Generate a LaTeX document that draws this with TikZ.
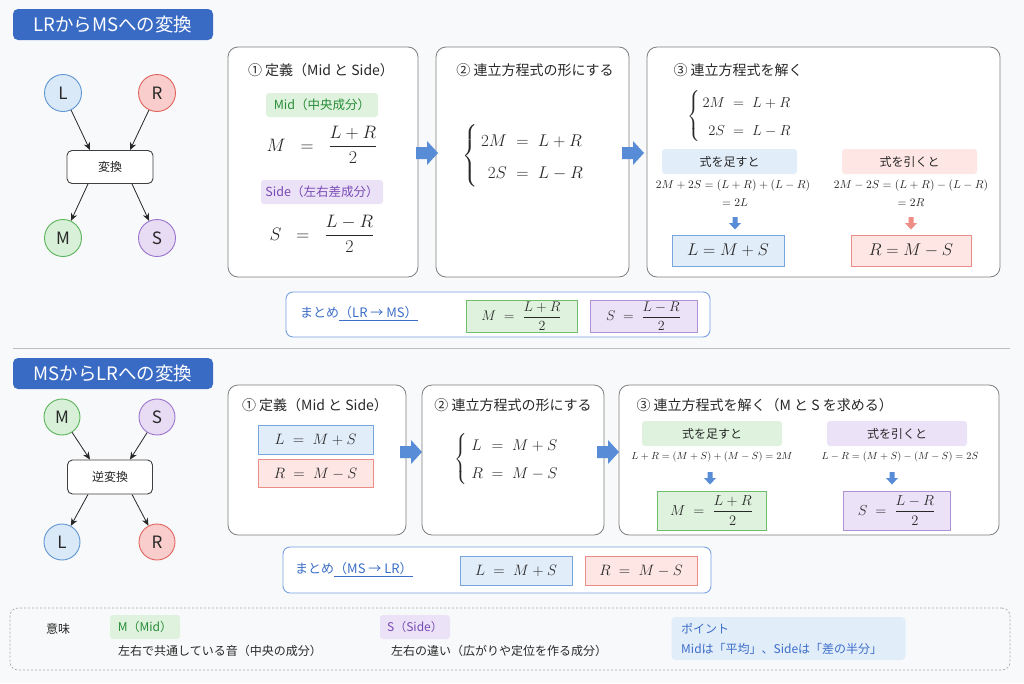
\RequirePackage{fix-cm}
\documentclass[tikz,border=0pt]{standalone}
\usepackage[no-math]{fontspec}
\setmainfont{Noto Sans CJK JP}
\usepackage{amsmath}
\usetikzlibrary{arrows.meta}
\definecolor{bg}{RGB}{248,249,250}
\definecolor{bannerblue}{RGB}{58,107,196}
\definecolor{arrowblue}{RGB}{88,140,214}
\definecolor{panelgray}{RGB}{125,125,125}
\definecolor{txt}{RGB}{40,40,40}
\definecolor{bfill}{RGB}{226,237,250}
\definecolor{bdraw}{RGB}{120,165,220}
\definecolor{rfill}{RGB}{253,230,228}
\definecolor{rdraw}{RGB}{236,140,135}
\definecolor{rarrow}{RGB}{238,140,134}
\definecolor{gfill}{RGB}{222,242,222}
\definecolor{gdraw}{RGB}{110,190,110}
\definecolor{gtext}{RGB}{40,140,55}
\definecolor{pfill}{RGB}{236,226,247}
\definecolor{pdraw}{RGB}{175,145,215}
\definecolor{ptext}{RGB}{120,75,180}
\definecolor{sumblue}{RGB}{60,110,200}
\definecolor{sumdraw}{RGB}{120,160,225}
\definecolor{cLf}{RGB}{218,233,248}\definecolor{cLd}{RGB}{95,150,210}
\definecolor{cRf}{RGB}{248,205,203}\definecolor{cRd}{RGB}{225,100,95}
\definecolor{cMf}{RGB}{216,240,216}\definecolor{cMd}{RGB}{90,180,90}
\definecolor{cSf}{RGB}{232,220,245}\definecolor{cSd}{RGB}{155,115,205}
\newcommand{\eqsp}{\;\;=\;\;}
\tikzset{
  every node/.style={text=txt},
  banner/.style={fill=bannerblue, rounded corners=5pt, text=white, minimum width=200pt, minimum height=31pt, inner sep=0pt, font=\fontsize{18.5}{20}\selectfont},
  circ/.style={circle, line width=0.9pt, minimum size=37pt, inner sep=0pt, font=\fontsize{17}{17}\selectfont},
  convbox/.style={draw=black!75, line width=0.9pt, fill=white, rounded corners=5pt, minimum width=86pt, minimum height=33pt, font=\fontsize{12}{12}\selectfont},
  conn/.style={draw=black!85, line width=0.8pt, -{Stealth[length=7.5pt,width=6.5pt]}},
  panel/.style={draw=panelgray, line width=0.8pt, fill=white, rounded corners=10pt, inner sep=0pt},
  ptitle/.style={font=\fontsize{14}{14}\selectfont},
  tag/.style={rounded corners=3pt, inner sep=0pt, font=\fontsize{12.5}{13}\selectfont},
  eqbox/.style={line width=0.8pt, inner sep=0pt},
  sumbox/.style={draw=sumdraw, line width=0.9pt, fill=white, rounded corners=7pt, inner sep=0pt},
  sumtext/.style={text=sumblue, font=\fontsize{13}{13}\selectfont, anchor=west, inner sep=0pt},
  small/.style={font=\fontsize{12}{13}\selectfont, inner sep=0pt},
  fatarrow/.pic={\fill[arrowblue] (-11,-6) -- (0,-6) -- (0,-12) -- (11,0) -- (0,12) -- (0,6) -- (-11,6) -- cycle;},
  downarr/.pic={\fill[pic actions] (-2.5,-6) -- (2.5,-6) -- (2.5,0) -- (6,0) -- (0,6.5) -- (-6,0) -- (-2.5,0) -- cycle;}
}
\begin{document}
\begin{tikzpicture}[x=1pt,y=-1pt]
\fill[bg] (0,0) rectangle (1024,683);
\useasboundingbox (0,0) rectangle (1024,683);

% ===== Top section =====
\node[banner] (B1) at (113,24.5) {LRからMSへの変換};
\node[circ, fill=cLf, draw=cLd] (L1) at (63,93) {L};
\node[circ, fill=cRf, draw=cRd] (R1) at (157,93) {R};
\node[convbox] (T1) at (110,167) {変換};
\node[circ, fill=cMf, draw=cMd] (M1) at (63,238) {M};
\node[circ, fill=cSf, draw=cSd] (S1) at (157,238) {S};
\draw[conn] (L1) -- ([xshift=-20pt]T1.north);
\draw[conn] (R1) -- ([xshift=20pt]T1.north);
\draw[conn] ([xshift=-22pt]T1.south) -- (M1);
\draw[conn] ([xshift=22pt]T1.south) -- (S1);

% panels
\node[panel, minimum width=190pt, minimum height=230pt] (P1) at (323,162) {};
\node[panel, minimum width=193pt, minimum height=230pt] (P2) at (532.5,162) {};
\node[panel, minimum width=353pt, minimum height=230pt] (P3) at (823.5,162) {};
\pic at (427,153) {fatarrow};
\pic at (633,153) {fatarrow};

% panel 1
\node[ptitle] (P1t) at (321,70) {① 定義（Mid と Side）};
\node[tag, fill=gfill, text=gtext, minimum width=112pt, minimum height=24pt] (mid1) at (322,105) {Mid（中央成分）};
\node (fM1) at (322,145) {\fontsize{18}{22}\selectfont $\displaystyle M \;\;=\;\; \frac{L+R}{2}$};
\node[tag, fill=pfill, text=ptext, minimum width=122pt, minimum height=24pt] (side1) at (322,192) {Side（左右差成分）};
\node (fS1) at (322,234) {\fontsize{18}{22}\selectfont $\displaystyle S \;\;=\;\; \frac{L-R}{2}$};

% panel 2
\node[ptitle] (P2t) at (535,70) {② 連立方程式の形にする};
\node (c2) at (526,156) {\fontsize{17}{20}\selectfont\def\arraystretch{1.6}$\left\{\begin{array}{@{\,}r@{\eqsp}l}2M & L+R\\ 2S & L-R\end{array}\right.$};

% panel 3
\node[ptitle, anchor=west] (P3t) at (670,70) {③ 連立方程式を解く};
\node (c3) at (742,116) {\fontsize{14.5}{17}\selectfont\def\arraystretch{1.6}$\left\{\begin{array}{@{\,}r@{\eqsp}l}2M & L+R\\ 2S & L-R\end{array}\right.$};
\node[tag, fill=bfill, minimum width=135pt, minimum height=25pt, font=\fontsize{12}{12}\selectfont] (add1) at (729.5,161.5) {式を足すと};
\node[tag, fill=rfill, minimum width=135pt, minimum height=25pt, font=\fontsize{12}{12}\selectfont] (sub1) at (909.5,161.5) {式を引くと};
\node[small] (ea1) at (733,186) {\fontsize{11.5}{13}\selectfont $2M+2S=(L+R)+(L-R)$};
\node[small] (ea2) at (735,203) {\fontsize{11.5}{13}\selectfont $=2L$};
\node[small] (es1) at (911,186) {\fontsize{11.5}{13}\selectfont $2M-2S=(L+R)-(L-R)$};
\node[small] (es2) at (911,203) {\fontsize{11.5}{13}\selectfont $=2R$};
\pic[fill=arrowblue] at (735,223) {downarr};
\pic[fill=rarrow] at (911,223) {downarr};
\node[eqbox, fill=bfill, draw=bdraw, minimum width=112pt, minimum height=31pt] (rL1) at (728,250.5) {\fontsize{17}{20}\selectfont $L = M + S$};
\node[eqbox, fill=rfill, draw=rdraw, minimum width=120pt, minimum height=31pt] (rR1) at (911,250.5) {\fontsize{17}{20}\selectfont $R = M - S$};

% summary 1
\node[sumbox, minimum width=424pt, minimum height=45pt] (Sum1) at (498,314.5) {};
\node[sumtext] (Sum1t) at (300,314) {まとめ\underline{（LR → MS）}};
\node[eqbox, fill=gfill, draw=gdraw, minimum width=111pt, minimum height=32pt] (sM1) at (521.5,316) {\fontsize{14}{16}\selectfont $M \;=\; \dfrac{L+R}{2}$};
\node[eqbox, fill=pfill, draw=pdraw, minimum width=107pt, minimum height=32pt] (sS1) at (643.5,316) {\fontsize{14}{16}\selectfont $S \;=\; \dfrac{L-R}{2}$};

% separator
\draw[black!25, line width=0.8pt] (13,348) -- (1010,348);

% ===== Bottom section =====
\node[banner] (B2) at (113,373.5) {MSからLRへの変換};
\node[circ, fill=cMf, draw=cMd, minimum size=36pt] (M2) at (62,417) {M};
\node[circ, fill=cSf, draw=cSd, minimum size=36pt] (S2) at (157,417) {S};
\node[convbox, minimum width=85pt, minimum height=34pt] (T2) at (110,477) {逆変換};
\node[circ, fill=cLf, draw=cLd, minimum size=36pt] (L2) at (62,542) {L};
\node[circ, fill=cRf, draw=cRd, minimum size=36pt] (R2) at (157,542) {R};
\draw[conn] (M2) -- ([xshift=-20pt]T2.north);
\draw[conn] (S2) -- ([xshift=20pt]T2.north);
\draw[conn] ([xshift=-22pt]T2.south) -- (L2);
\draw[conn] ([xshift=22pt]T2.south) -- (R2);

\node[panel, minimum width=178pt, minimum height=150pt] (Q1) at (317,460) {};
\node[panel, minimum width=182pt, minimum height=150pt] (Q2) at (513,460) {};
\node[panel, minimum width=380pt, minimum height=150pt] (Q3) at (809,460) {};
\pic at (411,452) {fatarrow};
\pic at (608,452) {fatarrow};

% q1
\node[ptitle] (Q1t) at (315,405) {① 定義（Mid と Side）};
\node[eqbox, fill=bfill, draw=bdraw, minimum width=115pt, minimum height=29pt] (qL) at (315.5,439.5) {\fontsize{15}{18}\selectfont $L \;=\; M + S$};
\node[eqbox, fill=rfill, draw=rdraw, minimum width=115pt, minimum height=28pt] (qR) at (315.5,473.5) {\fontsize{15}{18}\selectfont $R \;=\; M - S$};

% q2
\node[ptitle] (Q2t) at (513,405) {② 連立方程式の形にする};
\node (c4) at (509,459) {\fontsize{15.5}{17}\selectfont\def\arraystretch{1.6}$\left\{\begin{array}{@{\;}l@{\eqsp}l}L & M+S\\ R & M-S\end{array}\right.$};

% q3
\node[ptitle, anchor=west] (Q3t) at (633,405) {③ 連立方程式を解く（M と S を求める）};
\node[tag, fill=gfill, minimum width=140pt, minimum height=25pt, font=\fontsize{12}{12}\selectfont] (add2) at (712,433.5) {式を足すと};
\node[tag, fill=pfill, minimum width=140pt, minimum height=25pt, font=\fontsize{12}{12}\selectfont] (sub2) at (897,433.5) {式を引くと};
\node[small] (ea3) at (712,457) {\fontsize{10.3}{12}\selectfont $L+R=(M+S)+(M-S)=2M$};
\node[small] (es3) at (900,457) {\fontsize{10.3}{12}\selectfont $L-R=(M+S)-(M-S)=2S$};
\pic[fill=arrowblue] at (710,478) {downarr};
\pic[fill=arrowblue] at (892,478) {downarr};
\node[eqbox, fill=gfill, draw=gdraw, minimum width=109pt, minimum height=39pt] (qM) at (711.5,510.5) {\fontsize{14.5}{18}\selectfont $M \;=\; \dfrac{L+R}{2}$};
\node[eqbox, fill=pfill, draw=pdraw, minimum width=107pt, minimum height=39pt] (qS) at (896.5,510.5) {\fontsize{14.5}{18}\selectfont $S \;=\; \dfrac{L-R}{2}$};

% summary 2
\node[sumbox, minimum width=428pt, minimum height=46pt] (Sum2) at (497,570) {};
\node[sumtext] (Sum2t) at (295,570) {まとめ\underline{（MS → LR）}};
\node[eqbox, fill=bfill, draw=bdraw, minimum width=112pt, minimum height=29pt] (sL2) at (516,570.5) {\fontsize{15}{17}\selectfont $L \;=\; M + S$};
\node[eqbox, fill=rfill, draw=rdraw, minimum width=112pt, minimum height=29pt] (sR2) at (641,570.5) {\fontsize{15}{17}\selectfont $R \;=\; M - S$};

% ===== Legend =====
\node[draw=black!35, dash pattern=on 2pt off 2pt, line width=0.7pt, rounded corners=8pt, minimum width=1000pt, minimum height=62pt, inner sep=0pt] (Leg) at (510,639) {};
\node[small] (imi) at (58,629) {意味};
\node[tag, fill=gfill, text=gtext, minimum width=70pt, minimum height=24pt, font=\fontsize{12}{12}\selectfont] (lgM) at (145,627) {M（Mid）};
\node[small, anchor=west] (lgMt) at (118,651) {左右で共通している音（中央の成分）};
\node[tag, fill=pfill, text=ptext, minimum width=70pt, minimum height=24pt, font=\fontsize{12}{12}\selectfont] (lgS) at (415,627) {S（Side）};
\node[small, anchor=west] (lgSt) at (391,651) {左右の違い（広がりや定位を作る成分）};
\node[fill=bfill, rounded corners=4pt, minimum width=234pt, minimum height=43pt, inner sep=0pt] (pt) at (788.5,638.5) {};
\node[small, anchor=west, text=sumblue] (ptt) at (681,629) {ポイント};
\node[small, anchor=west, text=sumblue] (pttx) at (681,649) {Midは「平均」、Sideは「差の半分」};
\end{tikzpicture}
\end{document}
